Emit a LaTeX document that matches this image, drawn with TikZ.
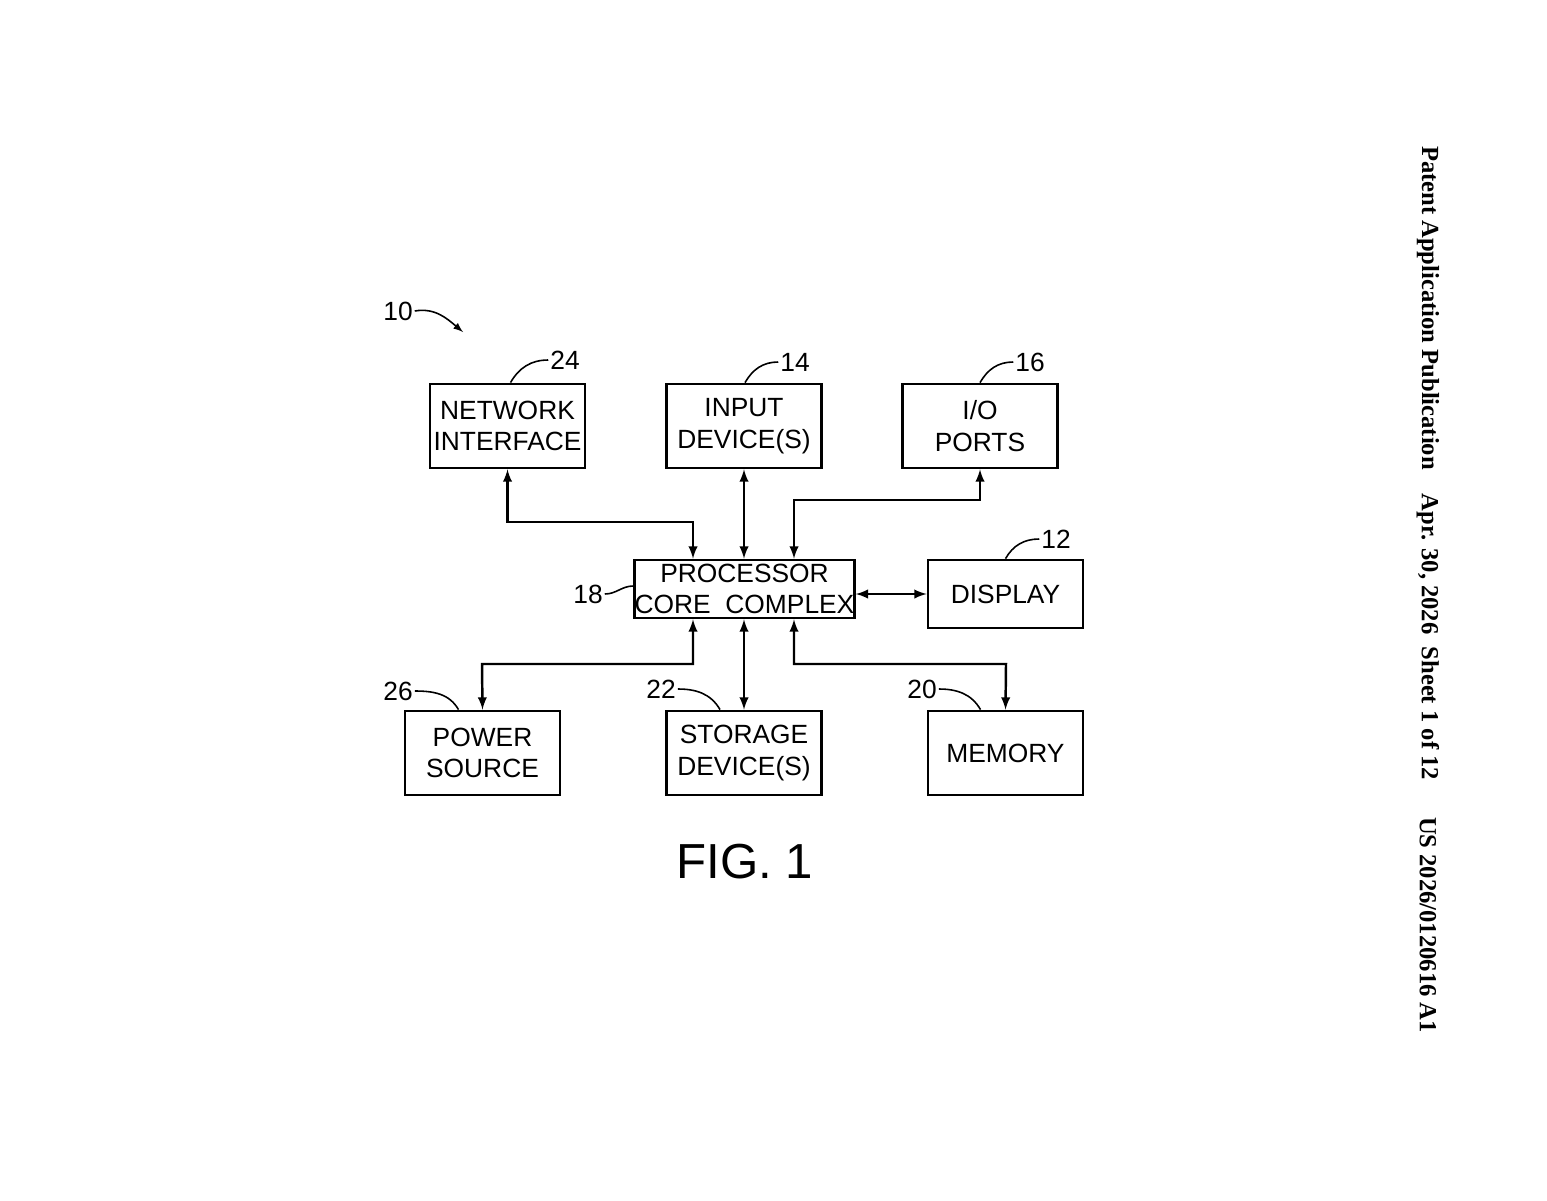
\documentclass[tikz,border=0pt]{standalone}
\usepackage{fontspec}
\setmainfont{Liberation Sans}
\newfontfamily\sidefont{Liberation Serif}
\usetikzlibrary{calc}

\tikzset{
    block/.style={draw, line width=1.6pt, minimum width=155*0.02cm, minimum height=84*0.02cm,
        align=center, font=\fontsize{15}{18}\selectfont, inner sep=0pt},
    bus/.style={line width=1.4pt, {latex}-{latex}},
    lead/.style={line width=0.9pt},
    num/.style={font=\fontsize{15}{18}\selectfont, inner sep=1pt},
}

\begin{document}
\begin{tikzpicture}[x=0.02cm, y=-0.02cm]
    \useasboundingbox (0,0) rectangle (1547,1200);

    % blocks
    \node[block] (net) at (507.5,426) {NETWORK\\INTERFACE};
    \node[block] (inp) at (744,426) {INPUT\\DEVICE(S)};
    \node[block] (io) at (980,426) {I/O\\PORTS};
    \node[block, minimum width=197*0.02cm, minimum height=58*0.02cm] (cpu) at (744.5,589) {PROCESSOR\\CORE\ \ COMPLEX};
    \node[block, minimum height=68*0.02cm] (disp) at (1005.5,594) {DISPLAY};
    \node[block] (pwr) at (482.5,753) {POWER\\SOURCE};
    \node[block] (stor) at (744,753) {STORAGE\\DEVICE(S)};
    \node[block] (mem) at (1005.5,753) {MEMORY};

    % buses
    \draw[bus] (net.south) |- (693,522) -- (cpu.north -| 693,0);
    \draw[bus] (inp.south) -- (cpu.north -| inp.south);
    \draw[bus] (cpu.north -| 794,0) |- (980,500) -- (io.south);
    \draw[bus] (cpu.east |- disp.west) -- (disp.west);
    \draw[bus] (cpu.south -| 693,0) |- (482,664) -- (pwr.north);
    \draw[bus] (cpu.south -| stor.north) -- (stor.north);
    \draw[bus] (cpu.south -| 794,0) |- (1006,664) -- (mem.north);

    % reference numerals
    \node[num] (n10) at (398,311) {10};
    \node[num] (n24) at (565,360) {24};
    \node[num] (n14) at (795,362) {14};
    \node[num] (n16) at (1030,362) {16};
    \node[num] (n12) at (1056,539) {12};
    \node[num] (n18) at (588,594) {18};
    \node[num] (n26) at (398,691) {26};
    \node[num] (n22) at (661,689) {22};
    \node[num] (n20) at (922,689) {20};

    \draw[lead, -{latex}] (n10.east) to[out=10, in=140] (463,332);
    \draw[lead] (n24.west) to[out=180, in=60] ([xshift=3*0.02cm]net.north);
    \draw[lead] (n14.west) to[out=180, in=60] ([xshift=1*0.02cm]inp.north);
    \draw[lead] (n16.west) to[out=180, in=60] (io.north);
    \draw[lead] (n12.west) to[out=180, in=60] (disp.north);
    \draw[lead] (n18.east) to[out=0, in=180] ([yshift=3*0.02cm]cpu.west);
    \draw[lead] (n26.east) to[out=0, in=120] ([xshift=-24*0.02cm]pwr.north);
    \draw[lead] (n22.east) to[out=0, in=120] ([xshift=-24*0.02cm]stor.north);
    \draw[lead] (n20.east) to[out=0, in=120] ([xshift=-25*0.02cm]mem.north);

    % caption
    \node[font=\fontsize{28}{32}\selectfont] (fig) at (745,862) {FIG. 1};

    % side header
    \begin{scope}[every node/.style={rotate=-90, font=\sidefont\bfseries\fontsize{14}{16}\selectfont}]
        \node (hdrA) at (1428,308) {Patent Application Publication};
        \node (hdrB) at (1428,637) {Apr. 30, 2026\ \ Sheet 1 of 12};
        \node (hdrC) at (1428,925) {US 2026/0120616 A1};
    \end{scope}
\end{tikzpicture}
\end{document}
